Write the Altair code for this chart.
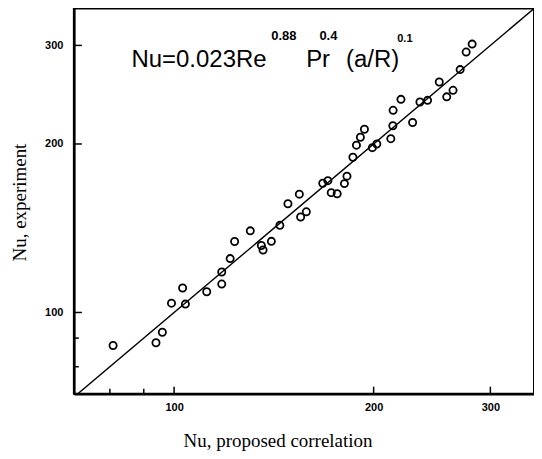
import altair as alt
import pandas as pd

# Data (log-log plot)
nu_pred = [80.9, 93.9, 96.0, 99.1, 104.0, 103.0, 112.0, 118.0, 118.0, 121.5,
           123.4, 130.3, 135.4, 136.2, 140.2, 144.4, 148.5, 154.5, 155.2, 158.3,
           167.6, 170.6, 172.6, 176.2, 180.7, 182.3, 186.1, 188.4, 191.0, 193.7,
           199.1, 202.2, 212.3, 213.8, 214.0, 219.9, 229.0, 234.9, 241.2, 251.2,
           257.8, 263.5, 270.1, 275.8, 281.6]
nu_exp = [87.3, 88.3, 92.2, 103.9, 103.5, 110.6, 108.9, 118.1, 112.4, 124.8,
          133.9, 139.9, 131.7, 129.3, 134.0, 143.1, 156.4, 162.7, 148.1, 151.3,
          170.2, 172.0, 163.7, 163.0, 169.9, 175.2, 189.4, 199.0, 205.6, 212.5,
          197.0, 200.0, 204.4, 215.6, 229.7, 240.3, 218.5, 237.7, 239.3, 258.1,
          242.8, 249.4, 271.6, 291.9, 301.6]
line_x = [70.6, 349.3]
major_ticks = [100, 200, 300]
minor_ticks = [80, 90]

X_DOM = [70.6, 349.1]
Y_DOM = [71.6, 349.3]
W, H = 461, 386

xscale = alt.Scale(type="log", domain=X_DOM, nice=False, zero=False)
yscale = alt.Scale(type="log", domain=Y_DOM, nice=False, zero=False)

pts = pd.DataFrame({"x": nu_pred, "y": nu_exp})
ln = pd.DataFrame({"x": line_x, "y": line_x})
maj = pd.DataFrame({"x": major_ticks, "y": major_ticks})
mnr = pd.DataFrame({"x": minor_ticks, "y": minor_ticks})

label_font = "Liberation Sans"
title_font = "Liberation Serif"

XAX = alt.Axis(values=major_ticks, format="d", ticks=False, grid=False,
               labelFont=label_font, labelFontSize=11, labelFontWeight="bold",
               labelColor="black", labelPadding=8,
               domainColor="black", domainWidth=2.5,
               title="Nu, proposed correlation", titleFont=title_font,
               titleFontSize=19, titleFontWeight="normal", titleColor="black",
               titleX=204, titleY=53, titleBaseline="alphabetic", titleAnchor="middle")
YAX = alt.Axis(values=major_ticks, format="d", ticks=False, grid=False,
               labelFont=label_font, labelFontSize=11, labelFontWeight="bold",
               labelColor="black", labelPadding=11,
               domainColor="black", domainWidth=2.5,
               title="Nu, experiment", titleFont=title_font,
               titleFontSize=19, titleFontWeight="normal", titleColor="black",
               titleX=-54, titleY=194, titleBaseline="middle", titleAnchor="middle")

points = alt.Chart(pts).mark_point(
    shape="circle", filled=False, color="black", size=52, strokeWidth=1.8, opacity=1
).encode(
    x=alt.X("x:Q", scale=xscale, axis=XAX),
    y=alt.Y("y:Q", scale=yscale, axis=YAX),
)

diag = alt.Chart(ln).mark_line(color="black", strokeWidth=1.4, clip=True).encode(
    x=alt.X("x:Q", scale=xscale, axis=XAX),
    y=alt.Y("y:Q", scale=yscale, axis=YAX),
)

xt_major = alt.Chart(maj).mark_rule(color="black", strokeWidth=1.5).encode(
    x=alt.X("x:Q", scale=xscale, axis=XAX), y=alt.value(H), y2=alt.value(H - 7))
xt_minor = alt.Chart(mnr).mark_rule(color="black", strokeWidth=1.5).encode(
    x=alt.X("x:Q", scale=xscale, axis=XAX), y=alt.value(H), y2=alt.value(H - 5))
yt_major = alt.Chart(maj).mark_rule(color="black", strokeWidth=1.5).encode(
    y=alt.Y("y:Q", scale=yscale, axis=YAX), x=alt.value(0), x2=alt.value(8))
yt_minor = alt.Chart(mnr).mark_rule(color="black", strokeWidth=1.5).encode(
    y=alt.Y("y:Q", scale=yscale, axis=YAX), x=alt.value(0), x2=alt.value(5))


def txt(s, x, y, size, weight="normal"):
    return alt.Chart(pd.DataFrame({"t": [s]})).mark_text(
        align="left", baseline="alphabetic", font=label_font, fontSize=size,
        fontWeight=weight, color="black"
    ).encode(x=alt.value(x), y=alt.value(y), text="t:N")


eq = [
    txt("Nu=0.023Re", 57.7, 58.7, 24),
    txt("0.88", 197.7, 31.3, 13, "bold"),
    txt("Pr", 232.7, 58.7, 24),
    txt("0.4", 246, 31.5, 13, "bold"),
    txt("(a/R)", 272.7, 58.7, 24),
    txt("0.1", 324, 33.7, 11, "bold"),
]

chart = alt.layer(points, diag, xt_major, xt_minor, yt_major, yt_minor, *eq).properties(
    width=W, height=H,
    autosize=alt.AutoSizeParams(type="none"),
    padding={"left": 66, "top": 0, "right": 0, "bottom": 57},
    background="white",
).configure_view(stroke="black", strokeWidth=2)

chart.save("out.html", embed_options={"renderer": "svg", "actions": False})
